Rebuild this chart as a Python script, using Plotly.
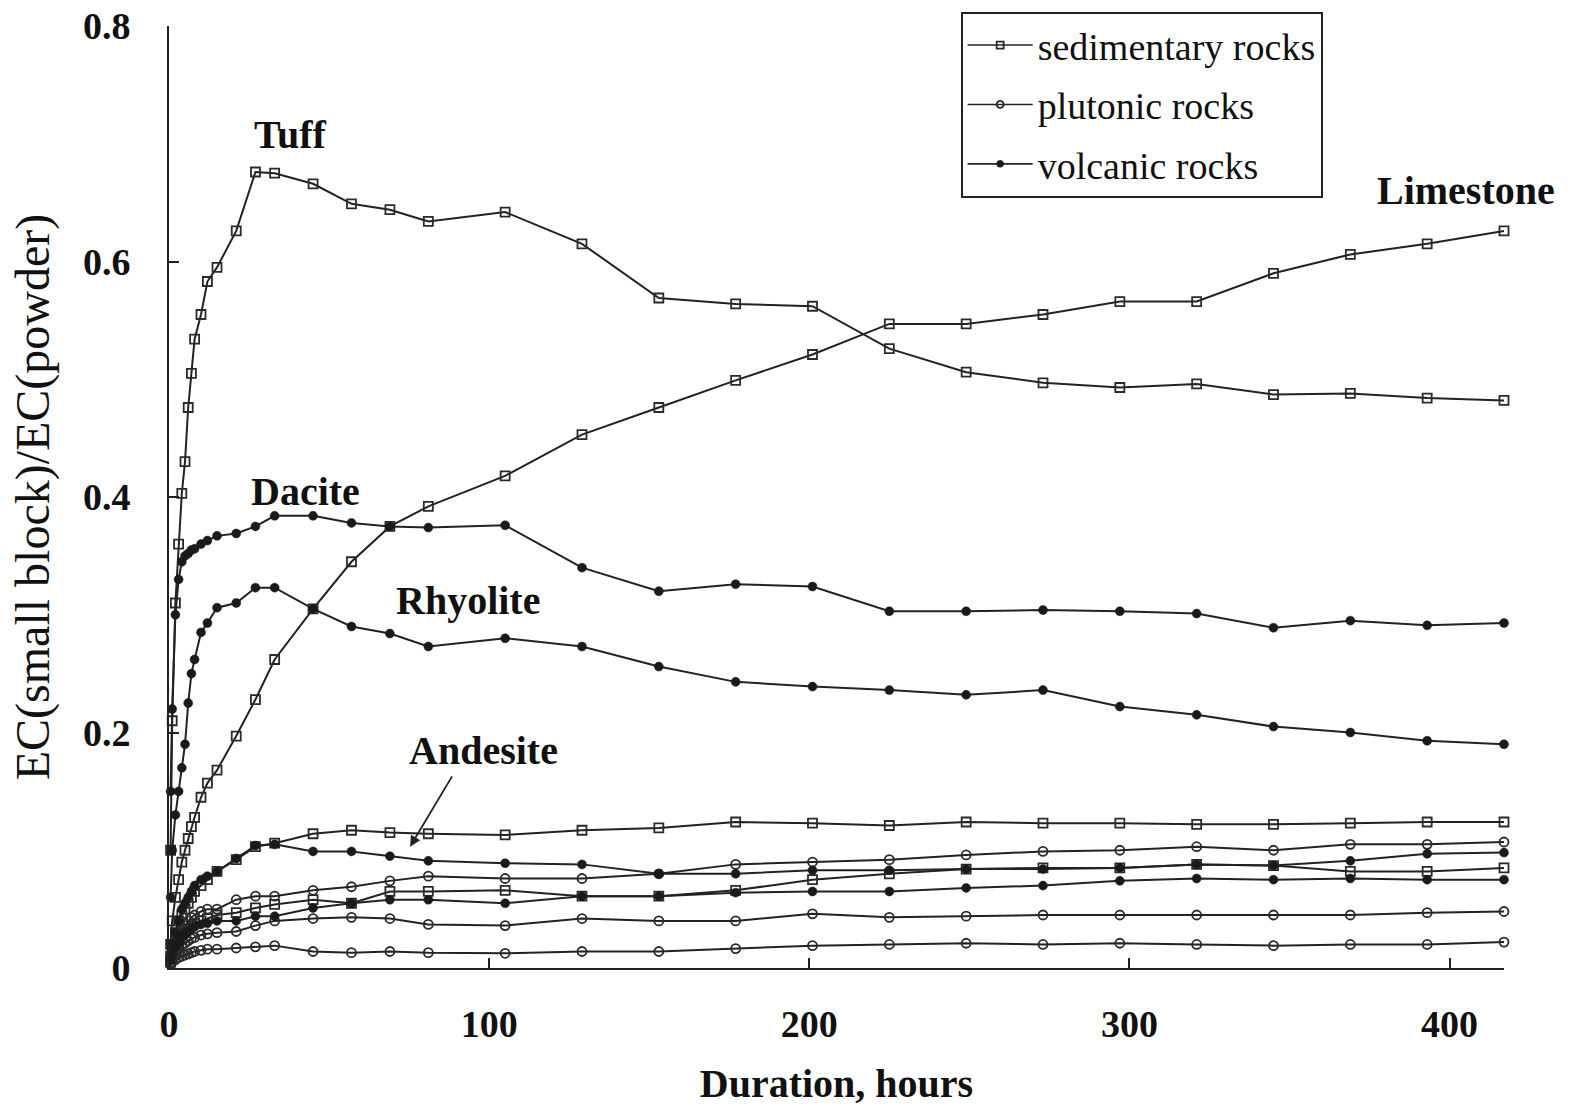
import plotly.graph_objects as go

# ---------------- data ----------------
hours = [0.5, 1, 2, 3, 4, 5, 6, 7, 8, 10, 12, 15, 21, 27, 33,
         45, 57, 69, 81,
         105, 129, 153, 177, 201, 225, 249, 273, 297, 321, 345, 369, 393, 417]

# sedimentary rocks
tuff = [0.10, 0.21, 0.31, 0.36, 0.403, 0.43, 0.476, 0.505, 0.534, 0.555, 0.583, 0.595, 0.626, 0.676, 0.675,
        0.666, 0.649, 0.644, 0.634,
        0.642, 0.615, 0.569, 0.564, 0.562, 0.526, 0.506, 0.497, 0.493, 0.496, 0.487, 0.488, 0.484, 0.482]
limestone = [0.02, 0.04, 0.06, 0.075, 0.09, 0.10, 0.11, 0.12, 0.128, 0.145, 0.157, 0.168, 0.197, 0.228, 0.262,
             0.305, 0.345, 0.375, 0.392,
             0.418, 0.453, 0.476, 0.499, 0.521, 0.547, 0.547, 0.555, 0.566, 0.566, 0.59, 0.606, 0.615, 0.626]
sed_upper = [0.01, 0.02, 0.03, 0.04, 0.045, 0.05, 0.055, 0.06, 0.065, 0.07, 0.075, 0.082, 0.092, 0.103, 0.106,
             0.114, 0.117, 0.115, 0.114,
             0.113, 0.117, 0.119, 0.124, 0.123, 0.121, 0.124, 0.123, 0.123, 0.122, 0.122, 0.123, 0.124, 0.124]
sed_middle = [0.005, 0.01, 0.015, 0.02, 0.025, 0.03, 0.033, 0.036, 0.038, 0.04, 0.042, 0.045, 0.047, 0.051, 0.054,
              0.058, 0.055, 0.065, 0.065,
              0.066, 0.061, 0.061, 0.066, 0.075, 0.080, 0.084, 0.085, 0.085, 0.088, 0.087, 0.082, 0.082, 0.085]

# plutonic rocks
plut_a = [0.008, 0.015, 0.022, 0.028, 0.032, 0.036, 0.04, 0.043, 0.045, 0.048, 0.05, 0.05, 0.058, 0.061, 0.061,
          0.066, 0.069, 0.074, 0.078,
          0.076, 0.076, 0.080, 0.088, 0.090, 0.092, 0.096, 0.099, 0.100, 0.103, 0.100, 0.105, 0.105, 0.107]
plut_b = [0.004, 0.008, 0.012, 0.016, 0.019, 0.021, 0.023, 0.025, 0.026, 0.028, 0.029, 0.03, 0.031, 0.036, 0.040,
          0.042, 0.043, 0.042, 0.037,
          0.036, 0.042, 0.040, 0.040, 0.046, 0.043, 0.044, 0.045, 0.045, 0.045, 0.045, 0.045, 0.047, 0.048]
plut_c = [0.003, 0.005, 0.007, 0.009, 0.01, 0.011, 0.012, 0.013, 0.014, 0.015, 0.016, 0.016, 0.017, 0.018, 0.019,
          0.014, 0.013, 0.014, 0.013,
          0.0125, 0.014, 0.014, 0.0165, 0.019, 0.020, 0.021, 0.020, 0.021, 0.020, 0.019, 0.020, 0.020, 0.022]

# volcanic rocks
dacite = [0.15, 0.22, 0.30, 0.33, 0.345, 0.35, 0.352, 0.355, 0.356, 0.36, 0.363, 0.367, 0.369, 0.375, 0.384,
          0.384, 0.378, 0.375, 0.374,
          0.376, 0.340, 0.320, 0.326, 0.324, 0.303, 0.303, 0.304, 0.303, 0.301, 0.289, 0.295, 0.291, 0.293]
rhyolite = [0.06, 0.10, 0.13, 0.15, 0.17, 0.19, 0.225, 0.25, 0.262, 0.285, 0.293, 0.306, 0.31, 0.323, 0.323,
            0.305, 0.29, 0.284, 0.273,
            0.28, 0.273, 0.256, 0.243, 0.239, 0.236, 0.232, 0.236, 0.222, 0.215, 0.205, 0.2, 0.193, 0.19]
andesite = [0.01, 0.02, 0.03, 0.04, 0.05, 0.055, 0.06, 0.065, 0.07, 0.075, 0.078, 0.082, 0.093, 0.104, 0.105,
            0.099, 0.099, 0.095, 0.091,
            0.089, 0.088, 0.080, 0.080, 0.083, 0.083, 0.084, 0.084, 0.085, 0.088, 0.087, 0.091, 0.097, 0.098]
volc_low = [0.006, 0.012, 0.018, 0.022, 0.026, 0.029, 0.031, 0.033, 0.035, 0.037, 0.038, 0.04, 0.04, 0.044, 0.044,
            0.051, 0.055, 0.058, 0.058,
            0.055, 0.061, 0.061, 0.064, 0.065, 0.065, 0.068, 0.070, 0.074, 0.076, 0.075, 0.076, 0.075, 0.075]

x_ticks = [0, 100, 200, 300, 400]
y_ticks = [0, 0.2, 0.4, 0.6, 0.8]
y_ticktext = ["0", "0.2", "0.4", "0.6", "0.8"]

groups = {
    "sedimentary rocks": [tuff, limestone, sed_upper, sed_middle],
    "plutonic rocks": [plut_a, plut_b, plut_c],
    "volcanic rocks": [dacite, rhyolite, andesite, volc_low],
}
styles = {
    "sedimentary rocks": dict(symbol="square-open", size=9, color="#2a2a2a", line=dict(width=1.8, color="#2a2a2a")),
    "plutonic rocks": dict(symbol="circle-open", size=9, color="#2a2a2a", line=dict(width=1.8, color="#2a2a2a")),
    "volcanic rocks": dict(symbol="circle", size=9, color="#1a1a1a", line=dict(width=0.5, color="#1a1a1a")),
}

SERIF = "Liberation Serif, Times New Roman, serif"
fig = go.Figure()

for name, series_list in groups.items():
    for vals in series_list:
        fig.add_trace(go.Scatter(
            x=hours, y=vals, mode="lines+markers",
            line=dict(color="#222", width=2),
            marker=styles[name], showlegend=False, cliponaxis=False,
            hoverinfo="skip"))

# legend entries
for name in groups:
    fig.add_trace(go.Scatter(
        x=[None], y=[None], mode="lines+markers", name=name,
        line=dict(color="#222", width=1.6),
        marker=dict(styles[name], size=7), legendgroup=name, showlegend=True))

annot_font = dict(family=SERIF, size=40, color="#111", weight="bold")
labels = [("Tuff", 37.8, 0.708), ("Dacite", 42.5, 0.405), ("Rhyolite", 93.4, 0.312),
          ("Andesite", 98.1, 0.185), ("Limestone", 405, 0.660)]
for txt, x, y in labels:
    fig.add_annotation(x=x, y=y, xref="x", yref="y", text=txt, showarrow=False,
                       font=annot_font, xanchor="center", yanchor="middle")

fig.add_annotation(x=75.3, y=0.103, ax=88.7, ay=0.164, xref="x", yref="y", axref="x", ayref="y",
                   text="", showarrow=True, arrowhead=2, arrowsize=1.2, arrowwidth=1.8, arrowcolor="#222")

fig.update_layout(
    width=1578, height=1114,
    margin=dict(l=169, r=74, t=26, b=146, autoexpand=False),
    plot_bgcolor="white", paper_bgcolor="white",
    font=dict(family=SERIF, color="#111"),
    legend=dict(
        x=0.593, y=1.015, xanchor="left", yanchor="top",
        bgcolor="white", bordercolor="#222", borderwidth=2,
        font=dict(family=SERIF, size=38, color="#111"),
        tracegroupgap=7, traceorder="grouped", itemwidth=65,
    ),
)
fig.update_xaxes(
    range=[0, 417], showline=True, linecolor="#222", linewidth=2, automargin=False,
    ticks="inside", ticklen=10, tickwidth=1.5, tickcolor="#222",
    tickvals=x_ticks, showgrid=False, zeroline=False, ticklabeloverflow="allow",
    tickfont=dict(family=SERIF, size=38, color="#111", weight="bold"),
    ticklabelstandoff=21,
    title=dict(text="Duration, hours", standoff=25,
               font=dict(family=SERIF, size=40, color="#111", weight="bold")),
)
fig.update_yaxes(
    range=[0, 0.8], showline=True, linecolor="#222", linewidth=2, automargin=False,
    ticks="inside", ticklen=10, tickwidth=1.5, tickcolor="#222",
    tickvals=y_ticks, ticktext=y_ticktext, showgrid=False, zeroline=False,
    ticklabeloverflow="allow",
    tickfont=dict(family=SERIF, size=38, color="#111", weight="bold"),
    ticklabelstandoff=29,
    title=dict(text="EC(small block)/EC(powder)", standoff=18,
               font=dict(family=SERIF, size=48, color="#111")),
)

# remove the default 8px page margin so the figure fills the window exactly
fig.write_html("out.html", config={"displayModeBar": False},
               post_script="document.body.style.margin='0px';")
